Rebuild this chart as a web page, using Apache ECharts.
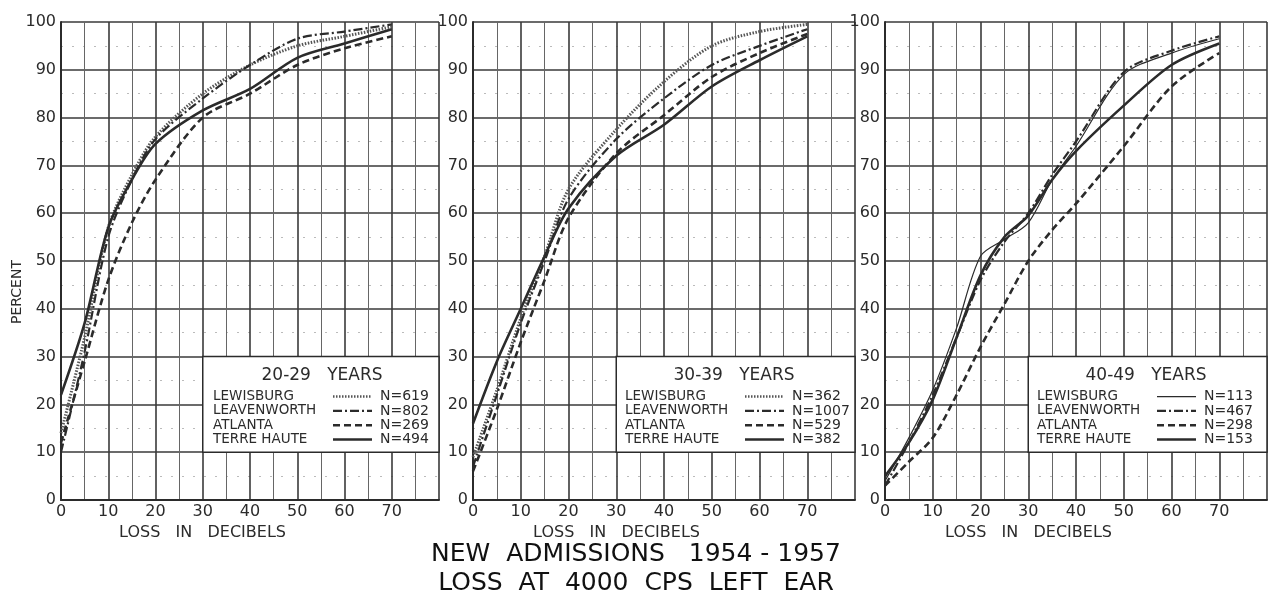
<!DOCTYPE html>
<html>
<head>
<meta charset="utf-8">
<script src="https://cdn.jsdelivr.net/npm/echarts@6/dist/echarts.min.js"></script>
<style>
  html, body { margin: 0; padding: 0; background: #fff; }
  #chart { width: 1273px; height: 603px; }
</style>
</head>
<body>
<div id="chart"></div>
<script>
// loss steps (dB) at which the curves were read
const dbSteps = [0, 5, 10, 15, 20, 30, 40, 50, 60, 70]
const dbSteps40 = [0, 5, 10, 15, 20, 25, 30, 35, 40, 50, 60, 70]

const cities = ["LEWISBURG", "LEAVENWORTH", "ATLANTA", "TERRE HAUTE"]
const ageGroups = ["20-29   YEARS", "30-39   YEARS", "40-49   YEARS"]

// cumulative percent, 20-29 years
const lewisburg20 = [14, 34, 57, 68, 76, 85, 91, 95, 97, 99]
const leavenworth20 = [10, 31, 55, 67, 75.5, 84, 91, 96.5, 98, 99.5]
const atlanta20 = [12, 29, 46, 58, 67, 80, 85, 91, 94.5, 97]
const terreHaute20 = [22, 37, 57, 67, 74.5, 81.5, 86, 92.5, 95.5, 98.5]
const counts20 = [619, 802, 269, 494]

// 30-39 years
const lewisburg30 = [9, 23, 38, 51, 65, 77.5, 87.5, 95, 98, 99.5]
const leavenworth30 = [7, 22, 37, 50, 63, 75.5, 84, 91, 95, 98.5]
const atlanta30 = [6, 19, 33, 46, 59, 72.5, 80.5, 88.5, 93.5, 97.5]
const terreHaute30 = [16, 29, 40, 51, 61, 72, 78.5, 86.5, 92, 97]
const counts30 = [362, 1007, 529, 382]

// 40-49 years
const lewisburg40 = [4, 13, 23, 36, 51, 54.5, 58, 67, 74, 89, 93.5, 96.5]
const leavenworth40 = [3, 12, 22, 34, 46, 54, 60, 68, 75, 89.5, 94, 97]
const atlanta40 = [3, 8, 13, 22, 32, 41, 50, 56.5, 62, 74, 86.5, 93.5]
const terreHaute40 = [5, 12, 21, 34, 47, 55, 59.5, 67, 73, 82.5, 91, 95.5]
const counts40 = [113, 467, 298, 153]

const xTicks = ["0", "10", "20", "30", "40", "50", "60", "70"]
const yTicks = ["0", "10", "20", "30", "40", "50", "60", "70", "80", "90", "100"]

const INK = "#2b2b2b"
const FONT = "DejaVu Sans"

const lineStyles = [
  { color: "#555", width: 3, type: [1.5, 1.5] },
  { color: INK, width: 2.2, type: [9, 3, 2, 3] },
  { color: INK, width: 2.6, type: [7, 4] },
  { color: INK, width: 2.6, type: "solid" },
]
// lewisburg is drawn as a thin plain line in the 40-49 panel
const lewisburgThin = { color: INK, width: 1.2, type: "solid" }

const panels = [
  { left: 61, width: 378, x: dbSteps, data: [lewisburg20, leavenworth20, atlanta20, terreHaute20], counts: counts20 },
  { left: 473, width: 382, x: dbSteps, data: [lewisburg30, leavenworth30, atlanta30, terreHaute30], counts: counts30 },
  { left: 885, width: 382, x: dbSteps40, data: [lewisburg40, leavenworth40, atlanta40, terreHaute40], counts: counts40 },
]

const TOP = 22
const HEIGHT = 478

const grids = panels.map((p) => ({ left: p.left, width: p.width, top: TOP, height: HEIGHT, containLabel: false }))

const xAxes = panels.map((p, i) => ({
  type: "value",
  gridIndex: i,
  min: 0,
  max: 80,
  interval: 10,
  name: "LOSS   IN   DECIBELS",
  nameLocation: "middle",
  nameGap: 24,
  nameTextStyle: { color: INK, fontFamily: FONT, fontSize: 16, padding: [0, 95, 0, 0] },
  axisLine: { lineStyle: { color: INK, width: 2 } },
  axisTick: { show: false },
  axisLabel: {
    color: INK, fontFamily: FONT, fontSize: 16, margin: 4,
    formatter: (v) => xTicks.includes(String(v)) ? String(v) : "",
  },
  splitLine: { lineStyle: { color: "#3a3a3a", width: 1.6 } },
  minorTick: { show: false, splitNumber: 2 },
  minorSplitLine: { show: true, lineStyle: { color: "#666", width: 1 } },
}))

const yAxes = panels.map((p, i) => ({
  type: "value",
  gridIndex: i,
  min: 0,
  max: 100,
  interval: 10,
  axisLine: { show: true, lineStyle: { color: INK, width: 2 } },
  axisTick: { show: false },
  axisLabel: {
    color: INK, fontFamily: FONT, fontSize: 16, margin: 5,
    formatter: (v) => yTicks[v / 10],
  },
  splitLine: { lineStyle: { color: "#3a3a3a", width: 1.6 } },
  minorTick: { show: false, splitNumber: 2 },
  minorSplitLine: { show: true, lineStyle: { color: "#bbb", width: 1, type: [2, 9] } },
}))

const series = []
panels.forEach((p, i) => {
  cities.forEach((city, k) => {
    const style = (i === 2 && k === 0) ? lewisburgThin : lineStyles[k]
    series.push({
      name: city,
      type: "line",
      xAxisIndex: i,
      yAxisIndex: i,
      data: p.x.map((x, j) => [x, p.data[k][j]]),
      smooth: 0.3,
      symbol: "none",
      lineStyle: style,
      z: 3,
    })
  })
})

// legend boxes drawn as graphics, one per panel
const graphics = []
panels.forEach((p, i) => {
  const px = p.width / 80
  const py = HEIGHT / 100
  const boxLeft = p.left + 30 * px
  const boxTop = TOP + (100 - 30) * py
  const boxRight = p.left + p.width
  const boxBottom = TOP + (100 - 10) * py
  graphics.push({
    type: "rect",
    shape: { x: boxLeft, y: boxTop, width: boxRight - boxLeft, height: boxBottom - boxTop },
    style: { fill: "#fff", stroke: INK, lineWidth: 1.5 },
    z: 10,
  })
  graphics.push({
    type: "text",
    x: p.left + 261,
    y: boxTop + 19,
    style: { text: ageGroups[i], fill: INK, font: `17px "${FONT}"`, align: "center", verticalAlign: "middle" },
    z: 11,
  })
  cities.forEach((city, k) => {
    const rowY = boxTop + 40 + k * 14.3
    const style = (i === 2 && k === 0) ? lewisburgThin : lineStyles[k]
    graphics.push({
      type: "text",
      x: p.left + 152,
      y: rowY,
      style: { text: city, fill: INK, font: `13.5px "${FONT}"`, align: "left", verticalAlign: "middle" },
      z: 11,
    })
    graphics.push({
      type: "line",
      shape: { x1: p.left + 272, y1: rowY, x2: p.left + 311, y2: rowY },
      style: {
        stroke: style.color,
        lineWidth: Math.min(style.width, 2.5),
        lineDash: Array.isArray(style.type) ? style.type : null,
      },
      z: 11,
    })
    graphics.push({
      type: "text",
      x: p.left + 319,
      y: rowY,
      style: { text: "N=" + p.counts[k], fill: INK, font: `14px "${FONT}"`, align: "left", verticalAlign: "middle" },
      z: 11,
    })
  })
})

graphics.push({
  type: "text",
  x: 17,
  y: 292,
  rotation: Math.PI / 2,
  style: { text: "PERCENT", fill: INK, font: `14px "${FONT}"`, align: "center", verticalAlign: "middle" },
})
graphics.push({
  type: "text",
  x: 636,
  y: 554,
  style: { text: "NEW  ADMISSIONS   1954 - 1957", fill: "#111", font: `25px "${FONT}"`, align: "center", verticalAlign: "middle" },
})
graphics.push({
  type: "text",
  x: 636,
  y: 583,
  style: { text: "LOSS  AT  4000  CPS  LEFT  EAR", fill: "#111", font: `25px "${FONT}"`, align: "center", verticalAlign: "middle" },
})

const chart = echarts.init(document.getElementById("chart"), null, { renderer: "canvas" })
chart.setOption({
  backgroundColor: "#fff",
  animation: false,
  grid: grids,
  xAxis: xAxes,
  yAxis: yAxes,
  series: series,
  graphic: graphics,
})
</script>
</body>
</html>
